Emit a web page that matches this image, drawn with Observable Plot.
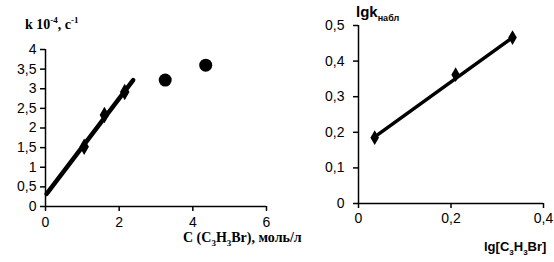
<!DOCTYPE html>
<html><head><meta charset="utf-8">
<script src="https://cdn.jsdelivr.net/npm/d3@7"></script>
<script src="https://cdn.jsdelivr.net/npm/@observablehq/plot@0.6"></script>
<style>
body{margin:0;background:#fff;}
#wrap{position:relative;width:554px;height:262px;overflow:hidden;background:#fff;}
.p{position:absolute;top:0;}
.p svg{overflow:visible;}
.t{position:absolute;font-weight:bold;color:#000;white-space:nowrap;}
.serif{font-family:"Liberation Serif","Times New Roman",serif;font-size:14px;}
.sans{font-family:"Liberation Sans",Arial,sans-serif;}
sup,sub{line-height:0;}
</style></head>
<body><div id="wrap"></div>
<script>
// Left chart data
const concA = [1.05, 1.6, 2.15];
const kA = [1.52, 2.33, 2.92];
const concB = [3.25, 4.35];
const kB = [3.22, 3.6];
const fitAx = [0.03, 2.38];
const fitAy = [0.32, 3.22];
const xTicksA = [0, 2, 4, 6];
const yTicksA = [0, 0.5, 1, 1.5, 2, 2.5, 3, 3.5, 4];
// Right chart data
const lgC = [0.035, 0.21, 0.333];
const lgK = [0.185, 0.362, 0.466];
const fitBx = [0.035, 0.333];
const fitBy = [0.187, 0.466];
const xTicksB = [0, 0.2, 0.4];
const yTicksB = [0, 0.1, 0.2, 0.3, 0.4, 0.5];

const fmt = d => String(d).replace(".", ",");
const wrap = document.getElementById("wrap");
const font = {fontFamily: "'Liberation Sans', Arial, sans-serif", fontSize: "14px", color: "#000", background: "transparent"};

const left = Plot.plot({
  width: 300, height: 262,
  marginLeft: 45, marginRight: 34, marginTop: 49, marginBottom: 56,
  style: font,
  x: {domain: [0, 6], label: null},
  y: {domain: [0, 4], label: null},
  marks: [
    Plot.axisX({ticks: xTicksA, tickFormat: fmt, tickSize: 5, tickPadding: 6, stroke: "#000", strokeWidth: 1.5, strokeOpacity: 1, label: null}),
    Plot.axisY({ticks: yTicksA, tickFormat: fmt, tickSize: 5, tickPadding: 4, stroke: "#000", strokeWidth: 1.5, strokeOpacity: 1, label: null}),
    Plot.ruleX([0], {stroke: "#000", strokeWidth: 1.5}),
    Plot.ruleY([0], {stroke: "#000", strokeWidth: 1.5}),
    Plot.line(fitAx.map((x, i) => ({x, y: fitAy[i]})), {x: "x", y: "y", stroke: "#000", strokeWidth: 4.5}),
    Plot.dot(concA.map((x, i) => ({x, y: kA[i]})), {x: "x", y: "y", symbol: "diamond", r: 5, fill: "#000"}),
    Plot.dot(concB.map((x, i) => ({x, y: kB[i]})), {x: "x", y: "y", r: 6.5, fill: "#000"})
  ]
});
left.classList.add("p");
left.style.left = "0px";
wrap.appendChild(left);

const right = Plot.plot({
  width: 274, height: 262,
  marginLeft: 78, marginRight: 11, marginTop: 25, marginBottom: 59,
  style: font,
  x: {domain: [0, 0.4], label: null},
  y: {domain: [0, 0.5], label: null},
  marks: [
    Plot.axisX({ticks: xTicksB, tickFormat: fmt, tickSize: 5, tickPadding: 5, stroke: "#000", strokeWidth: 1.5, strokeOpacity: 1, label: null}),
    Plot.axisY({ticks: yTicksB, tickFormat: fmt, tickSize: 5, tickPadding: 9, stroke: "#000", strokeWidth: 1.5, strokeOpacity: 1, label: null}),
    Plot.ruleX([0], {stroke: "#000", strokeWidth: 1.5}),
    Plot.ruleY([0], {stroke: "#000", strokeWidth: 1.5}),
    Plot.line(fitBx.map((x, i) => ({x, y: fitBy[i]})), {x: "x", y: "y", stroke: "#000", strokeWidth: 3.5}),
    Plot.dot(lgC.map((x, i) => ({x, y: lgK[i]})), {x: "x", y: "y", symbol: "diamond", r: 4.5, fill: "#000"})
  ]
});
right.classList.add("p");
right.style.left = "280px";
wrap.appendChild(right);

function label(html, cls, x, y) {
  const d = document.createElement("div");
  d.className = "t " + cls;
  d.innerHTML = html;
  d.style.left = x + "px";
  d.style.top = y + "px";
  wrap.appendChild(d);
  return d;
}
label("k 10<sup style='font-size:9px'>-4</sup>, с<sup style='font-size:9px'>-1</sup>", "serif", 25, 17);
label("C (C<sub style='font-size:9px'>3</sub>H<sub style='font-size:9px'>3</sub>Br), моль/л", "serif", 183, 230);
label("<span style='font-size:15px'>lgk</span><sub style='font-size:9px'>набл</sub>", "sans", 356, 3);
const xl = label("lg[C<sub style='font-size:8px'>3</sub>H<sub style='font-size:8px'>3</sub>Br]", "sans", 484, 239);
xl.style.fontSize = "13px";
xl.style.lineHeight = "16px";
</script></body></html>
